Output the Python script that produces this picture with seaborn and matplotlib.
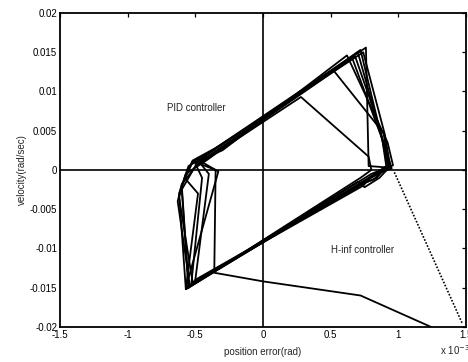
import numpy as np
import pandas as pd
import matplotlib
matplotlib.use("Agg")
import matplotlib.pyplot as plt
import seaborn as sns

# ---- data (position error in units of 1e-3 rad, velocity in rad/sec) ----
loop1_x = [-0.57, -0.62, -0.55, -0.45, 0.76, 0.78, 0.93, 0.86, 0.75, 0.70, -0.55]
loop1_y = [-0.0152, -0.0030, 0.0005, 0.0015, 0.0156, 0.0005, 0.0003, -0.0010, -0.0022, -0.0015, -0.0149]
loop2_x = [-0.55, -0.60, -0.52, -0.40, 0.70, 0.88, 0.91, 0.82, 0.72, -0.53]
loop2_y = [-0.0149, -0.0020, 0.0010, 0.0022, 0.0150, 0.0040, 0.0005, -0.0012, -0.0018, -0.0146]
loop3_x = [-0.53, -0.45, -0.50, -0.38, 0.66, 0.90, 0.95, 0.80, 0.74, -0.52]
loop3_y = [-0.0146, -0.0010, 0.0008, 0.0018, 0.0142, 0.0030, 0.0002, -0.0008, -0.0020, -0.0143]
loop4_x = [-0.52, -0.62, -0.57, -0.42, 0.72, 0.85, 0.93, 0.84, 0.76, -0.50]
loop4_y = [-0.0143, -0.0035, -0.0005, 0.0012, 0.0153, 0.0060, 0.0008, -0.0010, -0.0016, -0.0140]
loop5_x = [-0.50, -0.40, -0.48, -0.30, 0.62, 0.92, 0.96, 0.82, 0.74, -0.57]
loop5_y = [-0.0140, -0.0005, 0.0012, 0.0025, 0.0146, 0.0035, 0.0006, -0.0006, -0.0015, -0.0150]
loop6_x = [-0.57, -0.33, -0.45, 0.28, 0.78, 0.80, 0.72, -0.55]
loop6_y = [-0.0150, -0.0002, 0.0010, 0.0093, 0.0017, 0.0000, -0.0010, -0.0150]
loop7_x = [-0.55, -0.60, -0.50, 0.52, 0.89, 0.93, 0.80, -0.57]
loop7_y = [-0.0150, -0.0025, 0.0005, 0.0127, 0.0047, 0.0004, -0.0005, -0.0152]
loop8_x = [-0.57, -0.48, -0.58, -0.52, -0.35, 0.74, 0.90, 0.94, 0.78, -0.54]
loop8_y = [-0.0151, -0.0030, -0.0010, 0.0012, 0.0028, 0.0150, 0.0045, 0.0004, -0.0012, -0.0148]
loop9_x = [-0.54, -0.63, -0.60, -0.47, 0.68, 0.86, 0.92, 0.79, -0.56]
loop9_y = [-0.0148, -0.0040, -0.0018, 0.0010, 0.0145, 0.0055, 0.0006, -0.0009, -0.0151]
hinf_x = [-0.50, -0.35, -0.36, 0.00, 0.72, 1.24]
hinf_y = [0.0010, 0.0000, -0.0131, -0.0142, -0.0160, -0.0200]
dot_x = [0.97, 1.47]
dot_y = [-0.0003, -0.0195]

loops = [(loop1_x, loop1_y), (loop2_x, loop2_y), (loop3_x, loop3_y),
         (loop4_x, loop4_y), (loop5_x, loop5_y), (loop6_x, loop6_y),
         (loop7_x, loop7_y), (loop8_x, loop8_y), (loop9_x, loop9_y),
         (hinf_x, hinf_y)]

x_ticks = [-1.5, -1, -0.5, 0, 0.5, 1, 1.5]
x_ticklabels = ["-1.5", "-1", "-0.5", "0", "0.5", "1", "1.5"]
y_ticks = [-0.02, -0.015, -0.01, -0.005, 0, 0.005, 0.01, 0.015, 0.02]
y_ticklabels = ["-0.02", "-0.015", "-0.01", "-0.005", "0", "0.005", "0.01", "0.015", "0.02"]

rows = []
for i, (xs, ys) in enumerate(loops):
    for j, (a, b) in enumerate(zip(xs, ys)):
        rows.append({"loop": i, "order": j, "x": a, "y": b})
df = pd.DataFrame(rows)
df_dot = pd.DataFrame({"x": dot_x, "y": dot_y, "loop": 0})

sns.set_style("white")
plt.rcParams["font.family"] = ["Liberation Sans", "DejaVu Sans"]

fig = plt.figure(figsize=(4.68, 3.62), dpi=100)
ax = fig.add_axes([0.128, 0.097, 0.868, 0.867])

ax.axhline(0, color="black", lw=1.2, zorder=1)
ax.axvline(0, color="black", lw=1.2, zorder=1)

sns.lineplot(data=df, x="x", y="y", units="loop", estimator=None, sort=False,
             color="black", lw=1.3, ax=ax, legend=False)
sns.lineplot(data=df_dot, x="x", y="y", units="loop", estimator=None, sort=False,
             color="black", lw=1.2, ls=(0, (1, 1)), ax=ax, legend=False)

ax.set_xlim(-1.5, 1.5)
ax.set_ylim(-0.02, 0.02)
ax.set_xticks(x_ticks)
ax.set_xticklabels(x_ticklabels)
ax.set_yticks(y_ticks)
ax.set_yticklabels(y_ticklabels)
ax.tick_params(direction="in", length=3, width=0.9, top=True, right=True,
               labelsize=7, pad=2, colors="black")
for s in ax.spines.values():
    s.set_color("black")
    s.set_linewidth(1.3)

ax.set_xlabel("position error(rad)", fontsize=7, labelpad=5)
ax.set_ylabel("velocity(rad/sec)", fontsize=7, labelpad=2)

ax.text(-0.71, 0.0079, "PID controller", fontsize=7, va="center", ha="left")
ax.text(0.50, -0.0102, "H-inf controller", fontsize=7, va="center", ha="left")
fig.text(0.94, 0.015, r"x 10$^{-3}$", fontsize=7, ha="left", va="bottom")

fig.savefig("out.png", dpi=100)
